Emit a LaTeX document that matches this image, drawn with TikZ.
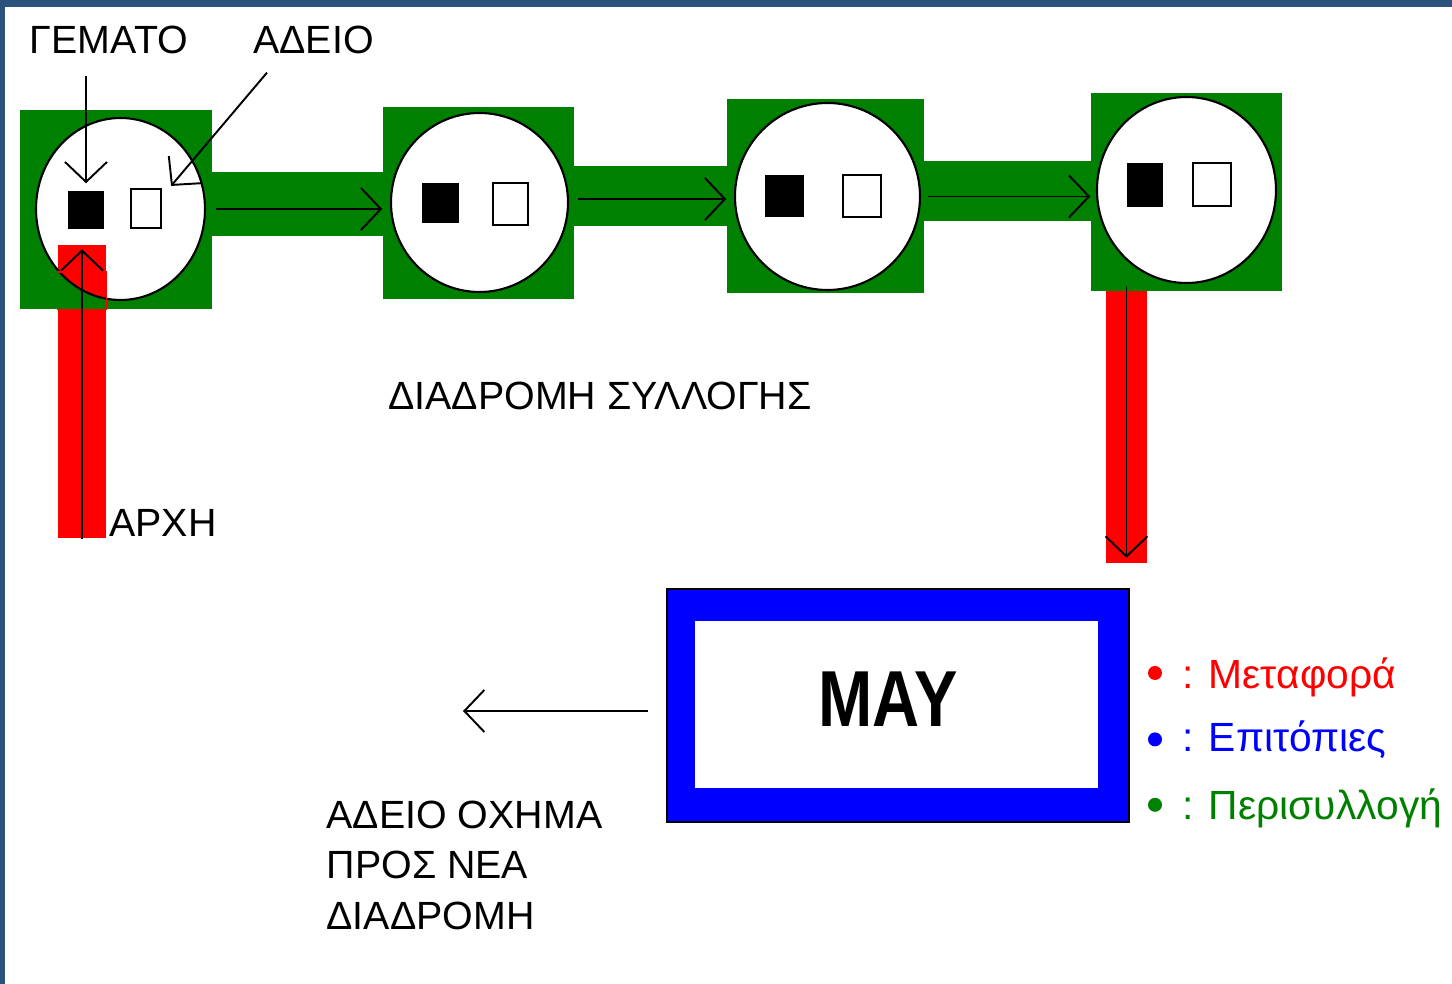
\documentclass[tikz,border=0pt]{standalone}
\usepackage{fontspec}
\setmainfont{Liberation Sans}
\usetikzlibrary{shapes.geometric,arrows.meta,positioning}
\definecolor{bingreen}{RGB}{0,128,0}
\definecolor{frameblue}{RGB}{42,82,122}

\begin{document}
\begin{tikzpicture}[x=0.1mm, y=-0.1mm,
    greenbox/.style={rectangle, fill=bingreen, inner sep=0pt},
    bin/.style={ellipse, draw=black, line width=0.6pt, fill=white, inner sep=0pt},
    fullsq/.style={rectangle, fill=black, inner sep=0pt},
    emptysq/.style={rectangle, draw=black, line width=0.6pt, fill=white, inner sep=0pt},
    redbar/.style={rectangle, fill=red, inner sep=0pt},
    lbl/.style={inner sep=0pt, font=\fontsize{11.2}{14.4}\selectfont},
    legend/.style={inner sep=0pt, anchor=base west, font=\fontsize{11.6}{14}\selectfont},
    flow/.style={-{Straight Barb[length=2mm, width=4.2mm]}, line width=0.55pt},
    dot/.style={circle, inner sep=0pt, minimum size=1.4mm}
]
    \fill[white] (0,0) rectangle (1452,984);
    \useasboundingbox (0,0) rectangle (1452,984);
    \fill[frameblue] (0,0) rectangle (1452,7);
    \fill[frameblue] (0,0) rectangle (5,984);

    % Collection stops
    \node[greenbox, minimum width=19.2mm, minimum height=19.9mm] (st1) at (116,209.5) {};
    \node[greenbox, minimum width=19.1mm, minimum height=19.2mm] (st2) at (478.5,203) {};
    \node[greenbox, minimum width=19.7mm, minimum height=19.4mm] (st3) at (825.5,196) {};
    \node[greenbox, minimum width=19.1mm, minimum height=19.8mm] (st4) at (1186.5,192) {};
    \fill[bingreen] (212,172) rectangle (383,236);
    \fill[bingreen] (574,166) rectangle (727,226);
    \fill[bingreen] (924,161) rectangle (1091,221);

    \node[bin, minimum width=16.9mm, minimum height=18.2mm] (c1) at (120.5,209) {};
    \node[bin, minimum width=17.7mm, minimum height=17.9mm] (c2) at (479.5,202.5) {};
    \node[bin, minimum width=18.5mm, minimum height=18.7mm] (c3) at (827.5,196.5) {};
    \node[bin, minimum width=17.9mm, minimum height=18.6mm] (c4) at (1186.5,190) {};

    % Full and empty bins
    \node[fullsq, minimum width=3.6mm, minimum height=3.8mm] (full1) at (86,210) {};
    \node[emptysq, minimum width=3.0mm, minimum height=3.9mm] (empty1) at (146,208.5) {};
    \node[fullsq, minimum width=3.7mm, minimum height=4.0mm] (full2) at (440.5,203) {};
    \node[emptysq, minimum width=3.5mm, minimum height=4.2mm] (empty2) at (510.5,204) {};
    \node[fullsq, minimum width=3.9mm, minimum height=4.2mm] (full3) at (784.5,196) {};
    \node[emptysq, minimum width=3.8mm, minimum height=4.2mm] (empty3) at (862,196) {};
    \node[fullsq, minimum width=3.6mm, minimum height=4.4mm] (full4) at (1145,185) {};
    \node[emptysq, minimum width=3.8mm, minimum height=4.3mm] (empty4) at (1212,184.5) {};

    \draw[flow] ([xshift=1mm]c1.east) -- (c1.east -| st2.west);
    \draw[flow] ([shift={(0.9mm,0.35mm)}]c2.east) -- ([yshift=0.35mm]c2.east -| st3.west);
    \draw[flow] ([xshift=0.7mm]c3.east) -- (c3.east -| st4.west);

    % Transport legs
    \node[redbar, minimum width=4.8mm, minimum height=29.3mm] (redL) at (82,391.5) {};
    \begin{scope}
        \clip (redL.south west) rectangle (redL.north east);
        \fill[bingreen, even odd rule] (st1.south west) rectangle (st1.north east)
            (c1.center) ellipse [x radius=8.45mm, y radius=9.1mm];
        \draw[line width=0.6pt] (c1.center) ellipse [x radius=8.45mm, y radius=9.1mm];
    \end{scope}
    \draw[red, line width=0.4pt] (redL.west |- 0,272) rectangle (redL.east |- st1.south);
    \node[redbar, minimum width=4.1mm, minimum height=27.2mm] (redR) at (1126.5,427) {};

    \draw[flow] (redL.south) -- ([yshift=-0.5mm]redL.north);
    \draw[flow] ([yshift=0.4mm]redR.north) -- ([yshift=0.6mm]redR.south);

    % Labels
    \node[lbl] (fulltxt) at (109,40) {ΓΕΜΑΤΟ};
    \node[lbl] (emptytxt) at (313.5,40) {ΑΔΕΙΟ};
    \draw[flow] ([yshift=-2.1mm]fulltxt.south -| full1.north) -- ([yshift=0.7mm]full1.north);
    \draw[flow] ([shift={(-4.65mm,-1.8mm)}]emptytxt.south) -- ([shift={(0.9mm,0.2mm)}]empty1.north east);
    \node[lbl] (route) at (600,396) {ΔΙΑΔΡΟΜΗ ΣΥΛΛΟΓΗΣ};
    \node[lbl, anchor=south west] (start) at ([shift={(0.2mm,0.1mm)}]redL.south east) {ΑΡΧΗ};

    % Depot
    \node[rectangle, fill=blue, draw=black, line width=0.6pt,
        minimum width=46.2mm, minimum height=23.3mm] (depot) at (898,705.5) {};
    \node[rectangle, fill=white, inner sep=0pt,
        minimum width=40.3mm, minimum height=16.7mm] (yard) at (896.5,704.5) {};
    \node[inner sep=0pt, font=\fontsize{22.6}{26}\selectfont\bfseries] (mau) at (888,699)
        {\scalebox{0.82}[1]{ΜΑΥ}};

    \coordinate (exit) at (463,711);
    \draw[flow] ([shift={(-1.8mm,-0.55mm)}]depot.west) -- (exit);
    \node[lbl, align=left, anchor=north west] (note) at (326,800)
        {ΑΔΕΙΟ ΟΧΗΜΑ\\ΠΡΟΣ ΝΕΑ\\ΔΙΑΔΡΟΜΗ};

    % Legend
    \node[dot, fill=red] (dotA) at (1155,673) {};
    \node[dot, fill=blue, below=5.1mm of dotA] (dotB) {};
    \node[dot, fill=bingreen, below=5mm of dotB] (dotC) {};
    \node[legend, text=red] (keyA) at ([shift={(1.9mm,-1.6mm)}]dotA.east) {: Μεταφορά};
    \node[legend, text=blue] (keyB) at ([shift={(1.9mm,-1.2mm)}]dotB.east) {: Επιτόπιες};
    \node[legend, text=bingreen] (keyC) at ([shift={(1.9mm,-1.5mm)}]dotC.east) {: Περισυλλογή};
\end{tikzpicture}
\end{document}
